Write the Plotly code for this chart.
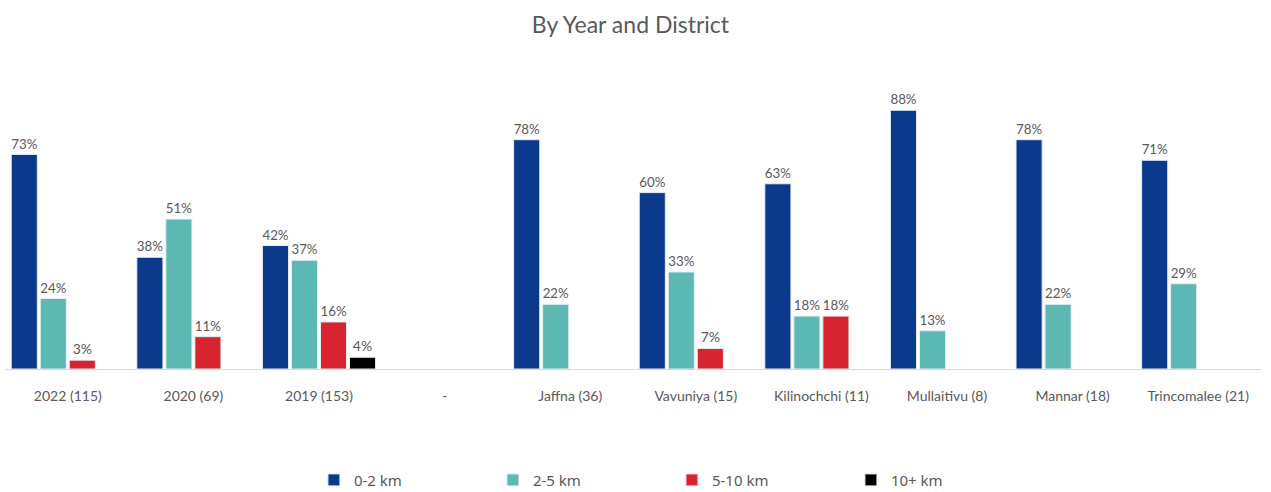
import plotly.graph_objects as go

# categorias do eixo x
categorias = ["2022 (115)", "2020 (69)", "2019 (153)", "-", "Jaffna (36)",
              "Vavuniya (15)", "Kilinochchi (11)", "Mullaitivu (8)",
              "Mannar (18)", "Trincomalee (21)"]

km_0_2 = [73, 38, 42, None, 78, 60, 63, 88, 78, 71]
km_2_5 = [24, 51, 37, None, 22, 33, 18, 13, 22, 29]
km_5_10 = [3, 11, 16, None, None, 7, 18, None, None, None]
km_10_mais = [None, None, 4, None, None, None, None, None, None, None]

series = [
    ("0-2 km", km_0_2, "#0b3a8c"),
    ("2-5 km", km_2_5, "#5cb8b2"),
    ("5-10 km", km_5_10, "#d7242f"),
    ("10+ km", km_10_mais, "#000000"),
]

fig = go.Figure()
for nome, valores, cor in series:
    fig.add_trace(go.Bar(
        x=categorias, y=valores, name=nome,
        marker=dict(color=cor, line=dict(color="#e8eef5", width=1)),
        text=[f"{v}%" if v is not None else "" for v in valores],
        textposition="outside", cliponaxis=False,
        textfont=dict(family="Lato", size=14, color="#595959"),
    ))

fig.update_layout(
    width=1271, height=492,
    paper_bgcolor="white", plot_bgcolor="white",
    margin=dict(l=5, r=10, t=75, b=123, autoexpand=False),
    barmode="group", bargap=0.076, bargroupgap=0.1,
    title=dict(text="By Year and District", x=0.496, xanchor="center",
               y=0.95, yanchor="middle",
               font=dict(family="Lato", size=23, color="#595959")),
    xaxis=dict(showline=True, linecolor="#d9d9d9", linewidth=1,
               ticks="outside", ticklen=14, tickcolor="rgba(0,0,0,0)",
               showgrid=False,
               tickfont=dict(family="Lato", size=14, color="#595959")),
    yaxis=dict(range=[0, 100], visible=False, showgrid=False),
    legend=dict(orientation="h", x=0.531, xanchor="center", y=-0.378,
                yanchor="middle", entrywidth=134, entrywidthmode="pixels",
                font=dict(family="Noto Sans", size=15, color="#595959")),
    showlegend=True,
)

# tira a margem padrão do body da página
fig.write_html("out.html", config={"displayModeBar": False},
               post_script="document.body.style.margin='0';")
